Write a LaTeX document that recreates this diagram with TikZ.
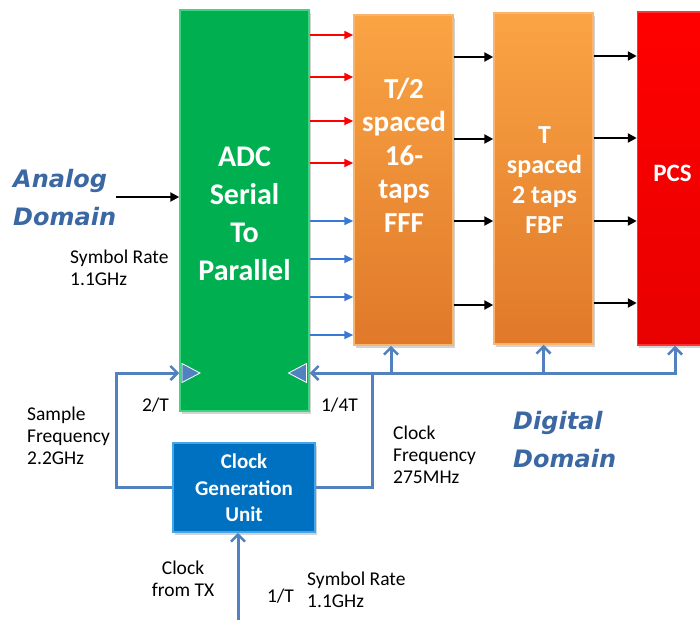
\documentclass[tikz,border=0pt]{standalone}
\usepackage{fontspec}
\setmainfont{Carlito}
\newfontfamily\domfont{DejaVu Sans}
\usetikzlibrary{arrows.meta,shadows}
\definecolor{adcgreen}{HTML}{00B050}
\definecolor{adcedge}{HTML}{3DD57E}
\definecolor{orgtop}{HTML}{FAA444}
\definecolor{orgbot}{HTML}{E0792A}
\definecolor{orgedge}{HTML}{F7B56E}
\definecolor{pcsred}{HTML}{FF0000}
\definecolor{pcsbot}{HTML}{E80000}
\definecolor{clkblue}{HTML}{0070C0}
\definecolor{clkedge}{HTML}{45A5EA}
\definecolor{clkline}{HTML}{5181BE}
\definecolor{bluearr}{HTML}{3A78D6}
\definecolor{domblue}{HTML}{3B68A3}
\begin{document}
\begin{tikzpicture}[x=1pt,y=-1pt,
  blockbox/.style={inner sep=0pt, line width=1.5pt,
    drop shadow={shadow xshift=1.5pt, shadow yshift=-2.5pt, opacity=0.35}},
  whitetext/.style={inner sep=0pt, align=center, text=white},
  labeltext/.style={inner sep=0pt, align=left, text=black, font=\fontsize{19.5}{22}\selectfont},
  domtext/.style={inner sep=0pt, align=left, text=domblue, font=\domfont\bfseries\itshape\fontsize{24}{38}\selectfont},
  redarr/.style={draw=pcsred, line width=2pt, -{Triangle[length=9pt,width=8pt]}},
  bluearrow/.style={draw=bluearr, line width=2pt, -{Triangle[length=9pt,width=8pt]}},
  blkarr/.style={draw=black, line width=2.6pt, -{Triangle[length=9pt,width=9pt]}},
  clkwire/.style={draw=clkline, line width=3pt},
  clkarr/.style={draw=clkline, line width=3pt, -{Straight Barb[length=7pt,width=14pt,line width=2.6pt]}},
  tri/.style={fill=clkline, draw=white, line width=0.8pt}
]
\useasboundingbox (0,0) rectangle (700,619);

% blocks
\node[blockbox, fill=adcgreen, draw=adcedge, minimum width=129pt, minimum height=401pt] (adc) at (244.5,210.5) {};
\node[blockbox, top color=orgtop, bottom color=orgbot, draw=orgedge, minimum width=99pt, minimum height=330pt] (fff) at (403.5,180) {};
\node[blockbox, top color=orgtop, bottom color=orgbot, draw=orgedge, minimum width=99pt, minimum height=331pt] (fbf) at (543.5,178.5) {};
\node[blockbox, top color=pcsred, bottom color=pcsbot, draw=pcsred!80!white, minimum width=70pt, minimum height=333pt] (pcs) at (672.5,178.5) {};
\node[blockbox, fill=clkblue, draw=clkedge, minimum width=142pt, minimum height=89pt] (clk) at (244,487.5) {};

% block texts
\node[whitetext, font=\bfseries\fontsize{30}{38}\selectfont] (adct) at (244.5,213.4) {ADC\\Serial\\To\\Parallel};
\node[whitetext, font=\bfseries\fontsize{29}{33.5}\selectfont] (ffft) at (404,155.3) {T/2\\spaced\\16-\\taps\\FFF};
\node[whitetext, font=\bfseries\fontsize{26}{30}\selectfont] (fbft) at (544.5,179.7) {T\\spaced\\2 taps\\FBF};
\node[whitetext, font=\bfseries\fontsize{25}{30}\selectfont] (pcst) at (672.5,173.5) {PCS};
\node[whitetext, font=\bfseries\fontsize{21}{26.5}\selectfont] (clkt) at (244,487.8) {Clock\\Generation\\Unit};

% clock input triangles
\draw[tri] (182,363.5) -- (200,373) -- (182,382.5) -- cycle;
\draw[tri] (306.5,363.5) -- (288.5,373) -- (306.5,382.5) -- cycle;

% data arrows
\foreach \yy in {35,77,121,163} \draw[redarr] (adc.east |- 0,\yy) -- (fff.west |- 0,\yy);
\foreach \yy in {221,259,297,335} \draw[bluearrow] (adc.east |- 0,\yy) -- (fff.west |- 0,\yy);
\foreach \yy in {57,139,221,305} \draw[blkarr] (fff.east |- 0,\yy) -- (fbf.west |- 0,\yy);
\foreach \yy in {56,138,221,303} \draw[blkarr] (fbf.east |- 0,\yy) -- (pcs.west |- 0,\yy);

% analog input
\coordinate (ain) at (116,197);
\draw[blkarr, line width=2.2pt] (ain) -- (adc.west |- ain);

% clock wiring
\coordinate (lc) at (116,487);
\coordinate (lt) at (116,373);
\coordinate (rc) at (372,487);
\coordinate (rt) at (372,373);
\coordinate (bf) at (391,373);
\coordinate (bend) at (675,373);
\coordinate (clkin) at (238,625);
\draw[clkarr] (clk.west |- lc) -- (lc) -- (lt) -- (adc.west |- lt);
\draw[clkwire] (clk.east |- rc) -- (rc) -- (rt);
\draw[clkarr] (rt) -- (adc.east |- rt);
\draw[clkarr] (rt) -- (bend) -- (bend |- pcs.south);
\draw[clkarr] (bf) -- (bf |- fff.south);
\draw[clkarr] (fbf.south |- rt) -- (fbf.south);
\draw[clkarr] (clkin) -- (clkin |- clk.south);

% labels
\node[domtext, anchor=west] (analog) at (13,197.5) {Analog\\Domain};
\node[domtext, anchor=west] (digital) at (513,439.5) {Digital\\Domain};
\node[labeltext, anchor=west] (symrate1) at (70,268) {Symbol Rate\\1.1GHz};
\node[labeltext, anchor=west] (sampfreq) at (27,436) {Sample\\Frequency\\2.2GHz};
\node[labeltext, anchor=west] (clkfreq) at (393,454.5) {Clock\\Frequency\\275MHz};
\node[labeltext, anchor=base] (twoT) at (155.5,411) {2/T};
\node[labeltext, anchor=base] (quarterT) at (339.5,411) {1/4T};
\node[labeltext, align=center] (fromtx) at (183,579) {Clock\\from TX};
\node[labeltext, anchor=base] (oneT) at (280.5,602) {1/T};
\node[labeltext, anchor=west] (symrate2) at (307,589.5) {Symbol Rate\\1.1GHz};
\end{tikzpicture}
\end{document}
